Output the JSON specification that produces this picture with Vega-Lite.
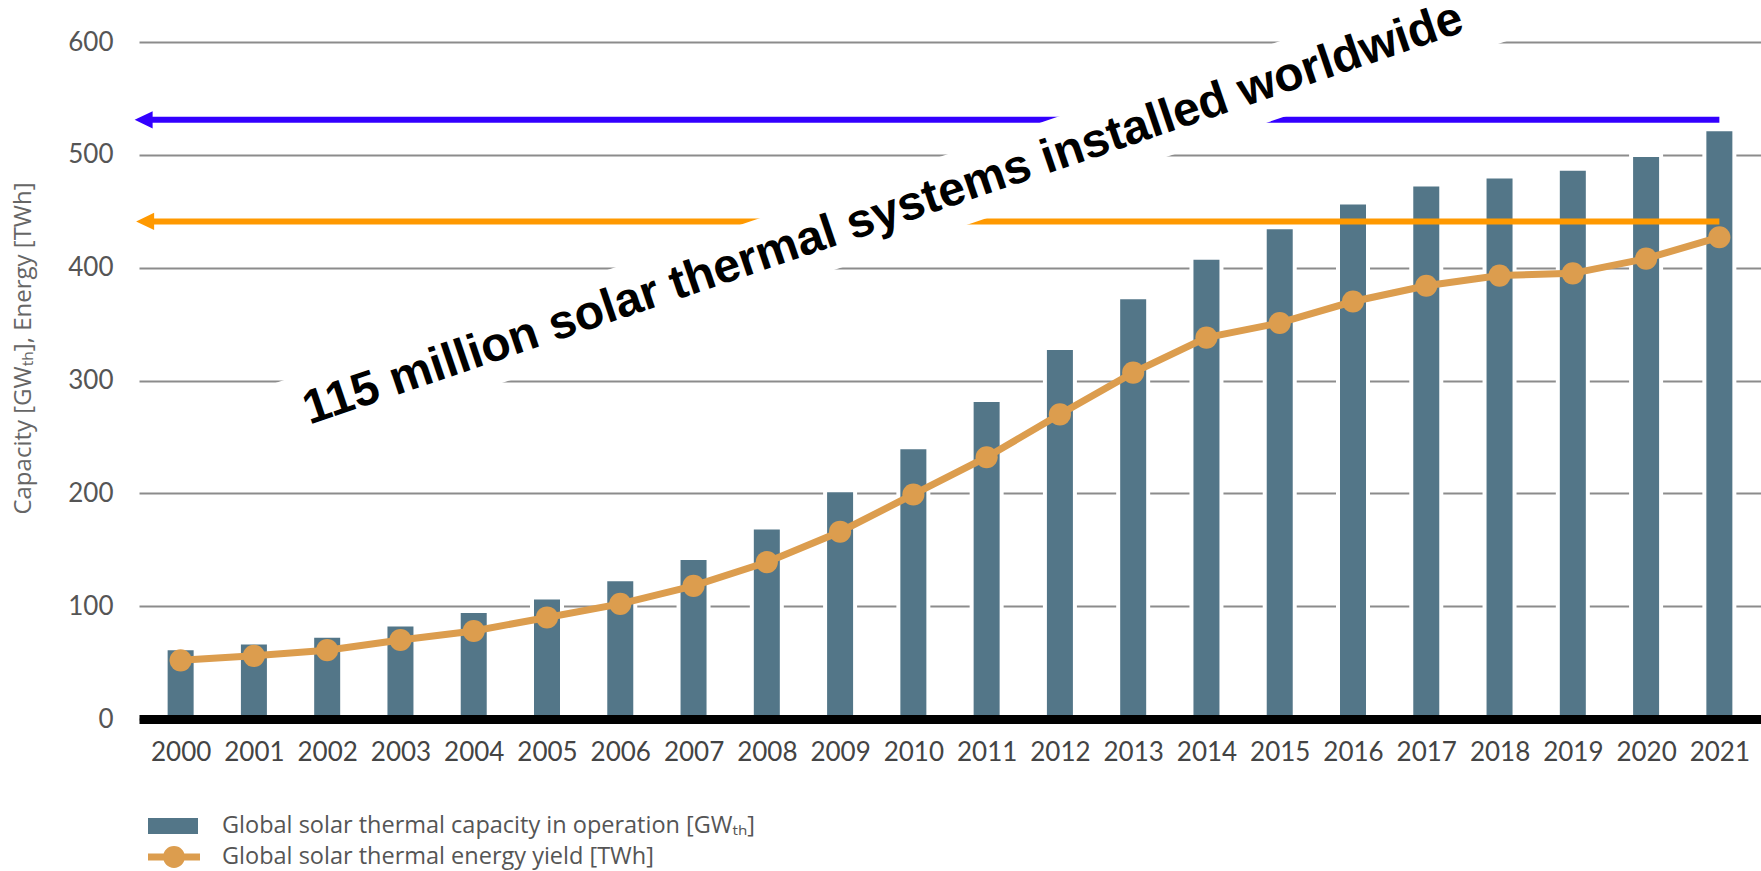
{
  "$schema": "https://vega.github.io/schema/vega-lite/v6.json",
  "width": 1622,
  "height": 677,
  "autosize": {"type": "none"},
  "padding": {"left": 139, "top": 42, "right": 0, "bottom": 152},
  "background": "white",
  "config": {"view": {"stroke": null}, "font": "Lato"},
  "datasets": {
    "solar": [
      {"year": 2000, "capacity": 61, "energy": 52},
      {"year": 2001, "capacity": 66, "energy": 56},
      {"year": 2002, "capacity": 72, "energy": 61},
      {"year": 2003, "capacity": 82, "energy": 70},
      {"year": 2004, "capacity": 94, "energy": 78},
      {"year": 2005, "capacity": 106, "energy": 90},
      {"year": 2006, "capacity": 122, "energy": 102},
      {"year": 2007, "capacity": 141, "energy": 118},
      {"year": 2008, "capacity": 168, "energy": 139},
      {"year": 2009, "capacity": 201, "energy": 166},
      {"year": 2010, "capacity": 239, "energy": 199},
      {"year": 2011, "capacity": 281, "energy": 232},
      {"year": 2012, "capacity": 327, "energy": 270},
      {"year": 2013, "capacity": 372, "energy": 307},
      {"year": 2014, "capacity": 407, "energy": 338},
      {"year": 2015, "capacity": 434, "energy": 351},
      {"year": 2016, "capacity": 456, "energy": 370},
      {"year": 2017, "capacity": 472, "energy": 384},
      {"year": 2018, "capacity": 479, "energy": 393},
      {"year": 2019, "capacity": 486, "energy": 395},
      {"year": 2020, "capacity": 498, "energy": 408},
      {"year": 2021, "capacity": 521, "energy": 427}
    ],
    "arrows": [
      {"series": "capacity", "value": 531, "from": 1999.58, "to": 2021, "tip": 1999.495},
      {"series": "energy", "value": 441, "from": 1999.6, "to": 2021, "tip": 1999.515}
    ],
    "note": [
      {"x": 2009.59, "value": 447, "label": "115 million solar thermal systems installed worldwide"}
    ]
  },
  "resolve": {"scale": {"fill": "independent", "color": "independent", "stroke": "independent"}},
  "layer": [
    {
      "data": {"name": "solar"},
      "mark": {"type": "bar", "width": 34, "color": "white", "yOffset": -4},
      "encoding": {
        "x": {
          "field": "year", "type": "quantitative", "title": null,
          "scale": {"domain": [1999.5, 2021.5], "nice": false, "zero": false},
          "axis": {
            "values": [2000, 2001, 2002, 2003, 2004, 2005, 2006, 2007, 2008, 2009, 2010, 2011, 2012, 2013, 2014, 2015, 2016, 2017, 2018, 2019, 2020, 2021],
            "format": "d", "title": null, "grid": false, "ticks": false, "tickSize": 0,
            "domainColor": "black", "domainWidth": 9,
            "labelPadding": 20, "labelFont": "Lato", "labelFontSize": 26, "labelColor": "#444",
            "labelOverlap": false, "labelFlush": false, "labelBound": false, "zindex": 1
          }
        },
        "y": {
          "field": "capacity", "type": "quantitative", "title": "Capacity [GWₜₕ], Energy [TWh]",
          "scale": {"domain": [0, 600], "nice": false},
          "axis": {
            "values": [0, 100, 200, 300, 400, 500, 600],
            "title": "Capacity [GWₜₕ], Energy [TWh]",
            "domain": false, "ticks": false, "tickSize": 0,
            "labelPadding": 26, "labelFont": "Lato", "labelFontSize": 26, "labelColor": "#555",
            "grid": true, "gridColor": "#8c8c8c", "gridWidth": 2,
            "titleFont": "Open Sans", "titleFontSize": 24, "titleFontWeight": "normal", "titleColor": "#666",
            "titleAngle": 270, "titleX": -116, "titleY": 306, "titleAlign": "center", "titleBaseline": "middle"
          }
        }
      }
    },
    {
      "data": {"name": "solar"},
      "mark": {"type": "bar", "width": 26},
      "encoding": {
        "x": {"field": "year", "type": "quantitative", "title": null},
        "y": {"field": "capacity", "type": "quantitative", "title": "Capacity [GWₜₕ], Energy [TWh]"},
        "fill": {
          "datum": "Global solar thermal capacity in operation [GWₜₕ]", "type": "nominal",
          "scale": {"range": ["#537688"]},
          "legend": {
            "title": null, "orient": "none", "legendX": 9, "legendY": 759,
            "symbolType": "M-1,-0.32H1V0.32H-1Z", "symbolSize": 2500, "symbolStrokeWidth": 0,
            "labelFont": "Open Sans", "labelFontSize": 23.5, "labelColor": "#555", "labelOffset": 24,
            "padding": 0, "labelLimit": 0
          }
        }
      }
    },
    {
      "data": {"name": "solar"},
      "mark": {"type": "line", "color": "#dc9d4e", "strokeWidth": 7},
      "encoding": {
        "x": {"field": "year", "type": "quantitative", "title": null},
        "y": {"field": "energy", "type": "quantitative", "title": "Capacity [GWₜₕ], Energy [TWh]"}
      }
    },
    {
      "data": {"name": "solar"},
      "mark": {"type": "circle", "size": 490, "opacity": 1},
      "encoding": {
        "x": {"field": "year", "type": "quantitative", "title": null},
        "y": {"field": "energy", "type": "quantitative", "title": "Capacity [GWₜₕ], Energy [TWh]"},
        "color": {
          "datum": "Global solar thermal energy yield [TWh]", "type": "nominal",
          "scale": {"range": ["#dc9d4e"]},
          "legend": {
            "title": null, "orient": "none", "legendX": 9, "legendY": 789,
            "symbolType": "M-1,-0.135H1V0.135H-1Z M0.42,0A0.42,0.42 0 1,1 -0.42,0A0.42,0.42 0 1,1 0.42,0Z",
            "symbolSize": 2704, "symbolStrokeWidth": 0,
            "labelFont": "Open Sans", "labelFontSize": 23.5, "labelColor": "#555", "labelOffset": 22,
            "padding": 0, "labelLimit": 0
          }
        }
      }
    },
    {
      "data": {"name": "arrows"},
      "mark": {"type": "rule", "strokeWidth": 6},
      "encoding": {
        "x": {"field": "from", "type": "quantitative", "title": null},
        "x2": {"field": "to"},
        "y": {"field": "value", "type": "quantitative", "title": "Capacity [GWₜₕ], Energy [TWh]"},
        "stroke": {
          "field": "series", "type": "nominal",
          "scale": {"domain": ["capacity", "energy"], "range": ["#3300ff", "#ff9900"]},
          "legend": null
        }
      }
    },
    {
      "data": {"name": "arrows"},
      "mark": {"type": "point", "shape": "M-1,0L1,-0.95L1,0.95Z", "size": 324, "filled": true, "opacity": 1, "strokeWidth": 0},
      "encoding": {
        "x": {"field": "tip", "type": "quantitative", "title": null},
        "y": {"field": "value", "type": "quantitative", "title": "Capacity [GWₜₕ], Energy [TWh]"},
        "fill": {
          "field": "series", "type": "nominal",
          "scale": {"domain": ["capacity", "energy"], "range": ["#3300ff", "#ff9900"]},
          "legend": null
        }
      }
    },
    {
      "data": {"name": "note"},
      "mark": {"type": "point", "shape": "M-1,-0.0562H1V0.0562H-1Z", "size": 1690000, "filled": true, "color": "white", "opacity": 1, "strokeWidth": 0, "angle": 341.2},
      "encoding": {
        "x": {"field": "x", "type": "quantitative", "title": null},
        "y": {"field": "value", "type": "quantitative", "title": "Capacity [GWₜₕ], Energy [TWh]"}
      }
    },
    {
      "data": {"name": "note"},
      "mark": {"type": "text", "font": "Liberation Sans", "fontWeight": "bold", "fontSize": 48, "angle": 341.2, "align": "center", "baseline": "middle", "color": "black"},
      "encoding": {
        "x": {"field": "x", "type": "quantitative", "title": null},
        "y": {"field": "value", "type": "quantitative", "title": "Capacity [GWₜₕ], Energy [TWh]"},
        "text": {"field": "label"}
      }
    }
  ]
}
